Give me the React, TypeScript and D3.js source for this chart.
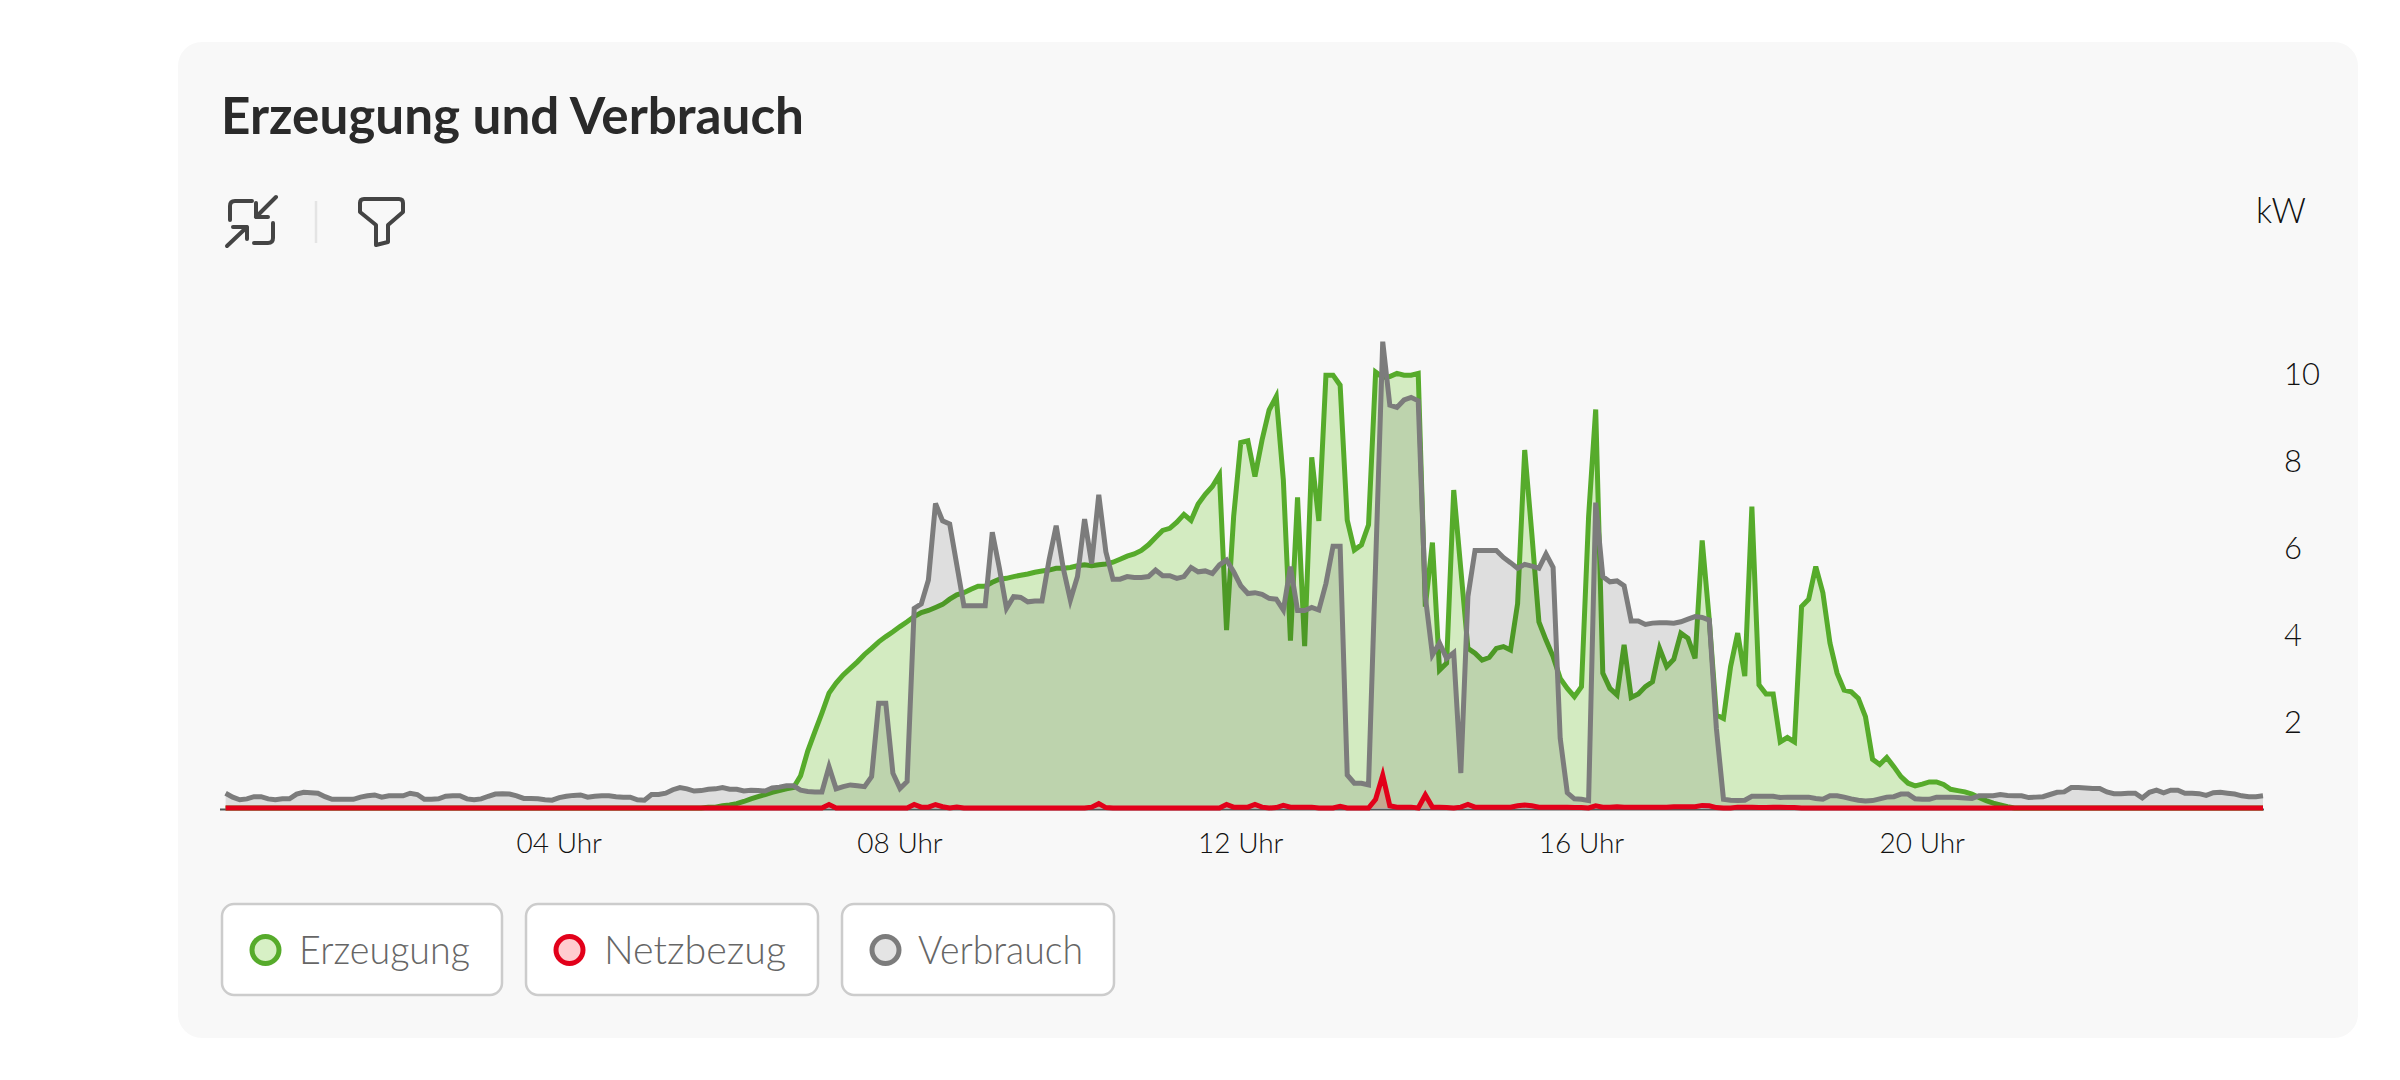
import React from 'react';
import { area, curveLinear, line, scaleLinear } from 'd3';

const width = 2400;
const height = 1080;

// kW, one value per 5 minutes, 00:05 to 24:00
const erzeugung = [
  0, 0, 0, 0, 0, 0, 0, 0, 0, 0, 0, 0,
  0, 0, 0, 0, 0, 0, 0, 0, 0, 0, 0, 0,
  0, 0, 0, 0, 0, 0, 0, 0, 0, 0, 0, 0,
  0, 0, 0, 0, 0, 0, 0, 0, 0, 0, 0, 0,
  0, 0, 0, 0, 0, 0, 0, 0, 0, 0, 0, 0,
  0, 0, 0, 0, 0, 0, 0, 0, 0.02, 0.02, 0.05, 0.07,
  0.1, 0.15, 0.21, 0.26, 0.31, 0.36, 0.4, 0.44, 0.47, 0.74, 1.31, 1.75,
  2.18, 2.64, 2.87, 3.06, 3.21, 3.36, 3.53, 3.67, 3.82, 3.94, 4.05, 4.17,
  4.28, 4.4, 4.49, 4.54, 4.61, 4.68, 4.8, 4.9, 4.95, 5.03, 5.1, 5.1,
  5.19, 5.26, 5.28, 5.32, 5.35, 5.38, 5.42, 5.45, 5.47, 5.51, 5.51, 5.53,
  5.57, 5.59, 5.57, 5.59, 5.61, 5.65, 5.72, 5.79, 5.84, 5.92, 6.05, 6.22,
  6.38, 6.43, 6.57, 6.75, 6.61, 6.99, 7.21, 7.39, 7.66, 4.09, 6.7, 8.4,
  8.44, 7.62, 8.46, 9.15, 9.46, 7.54, 3.85, 7.14, 3.72, 8.06, 6.6, 9.95,
  9.95, 9.72, 6.62, 5.93, 6.05, 6.51, 10.02, 9.9, 9.92, 9.99, 9.95, 9.95,
  9.99, 4.63, 6.1, 3.17, 3.33, 7.31, 5.49, 3.67, 3.56, 3.4, 3.46, 3.67,
  3.71, 3.63, 4.7, 8.23, 6.31, 4.28, 3.86, 3.48, 2.98, 2.75, 2.56, 2.79,
  6.7, 9.16, 3.1, 2.75, 2.6, 3.75, 2.54, 2.62, 2.79, 2.9, 3.67, 3.25,
  3.42, 4.02, 3.9, 3.44, 6.15, 4.32, 2.14, 2.06, 3.25, 4.02, 3.03, 6.93,
  2.83, 2.62, 2.62, 1.52, 1.62, 1.52, 4.63, 4.8, 5.55, 4.95, 3.79, 3.1,
  2.71, 2.67, 2.52, 2.1, 1.12, 1.0, 1.16, 0.95, 0.72, 0.57, 0.51, 0.55,
  0.6, 0.6, 0.54, 0.43, 0.4, 0.37, 0.32, 0.24, 0.17, 0.11, 0.07, 0.03,
  0, 0, 0, 0, 0, 0, 0, 0, 0, 0, 0, 0,
  0, 0, 0, 0, 0, 0, 0, 0, 0, 0, 0, 0,
  0, 0, 0, 0, 0, 0, 0, 0, 0, 0, 0, 0,
];

const verbrauch = [
  0.34, 0.25, 0.19, 0.21, 0.26, 0.26, 0.21, 0.19, 0.21, 0.21, 0.32, 0.36,
  0.35, 0.34, 0.26, 0.2, 0.2, 0.2, 0.2, 0.25, 0.28, 0.3, 0.25, 0.28,
  0.28, 0.28, 0.34, 0.31, 0.2, 0.2, 0.21, 0.27, 0.28, 0.28, 0.21, 0.19,
  0.21, 0.27, 0.32, 0.33, 0.32, 0.28, 0.22, 0.22, 0.21, 0.19, 0.18, 0.24,
  0.27, 0.29, 0.3, 0.25, 0.27, 0.28, 0.28, 0.26, 0.25, 0.25, 0.19, 0.18,
  0.31, 0.31, 0.34, 0.42, 0.47, 0.44, 0.39, 0.4, 0.43, 0.44, 0.47, 0.43,
  0.43, 0.39, 0.41, 0.4, 0.39, 0.46, 0.48, 0.51, 0.51, 0.41, 0.38, 0.37,
  0.37, 0.95, 0.44, 0.49, 0.53, 0.51, 0.49, 0.72, 2.41, 2.41, 0.8, 0.45,
  0.61, 4.59, 4.69, 5.24, 7.0, 6.6, 6.53, 5.59, 4.65, 4.65, 4.65, 4.65,
  6.34, 5.51, 4.59, 4.86, 4.84, 4.74, 4.76, 4.76, 5.7, 6.49, 5.51, 4.78,
  5.32, 6.64, 5.62, 7.2, 5.89, 5.26, 5.26, 5.32, 5.3, 5.3, 5.32, 5.47,
  5.34, 5.34, 5.28, 5.32, 5.53, 5.43, 5.45, 5.39, 5.59, 5.7, 5.43, 5.11,
  4.93, 4.95, 4.91, 4.82, 4.8, 4.55, 5.55, 4.54, 4.54, 4.61, 4.55, 5.16,
  6.02, 6.02, 0.76, 0.57, 0.57, 0.53, 5.62, 10.72, 9.26, 9.21, 9.38, 9.44,
  9.36, 4.86, 3.52, 3.79, 3.44, 3.57, 0.8, 4.86, 5.92, 5.92, 5.92, 5.92,
  5.76, 5.64, 5.51, 5.6, 5.56, 5.51, 5.84, 5.53, 1.6, 0.35, 0.21, 0.2,
  0.17, 7.02, 5.32, 5.2, 5.22, 5.11, 4.3, 4.3, 4.22, 4.25, 4.26, 4.26,
  4.25, 4.28, 4.34, 4.4, 4.38, 4.32, 1.83, 0.2, 0.18, 0.17, 0.18, 0.27,
  0.27, 0.27, 0.27, 0.24, 0.25, 0.25, 0.25, 0.25, 0.22, 0.2, 0.28, 0.28,
  0.25, 0.21, 0.18, 0.16, 0.17, 0.21, 0.25, 0.26, 0.32, 0.32, 0.21, 0.2,
  0.2, 0.25, 0.25, 0.25, 0.24, 0.23, 0.22, 0.28, 0.28, 0.28, 0.31, 0.29,
  0.28, 0.28, 0.24, 0.25, 0.26, 0.31, 0.36, 0.37, 0.47, 0.47, 0.46, 0.45,
  0.45, 0.37, 0.33, 0.33, 0.34, 0.34, 0.23, 0.36, 0.41, 0.35, 0.41, 0.41,
  0.34, 0.34, 0.33, 0.29, 0.35, 0.36, 0.34, 0.32, 0.28, 0.26, 0.26, 0.28,
];

const netzbezug = [
  0, 0, 0, 0, 0, 0, 0, 0, 0, 0, 0, 0,
  0, 0, 0, 0, 0, 0, 0, 0, 0, 0, 0, 0,
  0, 0, 0, 0, 0, 0, 0, 0, 0, 0, 0, 0,
  0, 0, 0, 0, 0, 0, 0, 0, 0, 0, 0, 0,
  0, 0, 0, 0, 0, 0, 0, 0, 0, 0, 0, 0,
  0, 0, 0, 0, 0, 0, 0, 0, 0, 0, 0, 0,
  0, 0, 0, 0, 0, 0, 0, 0, 0, 0, 0, 0,
  0, 0.08, 0, 0, 0, 0, 0, 0, 0, 0, 0, 0,
  0, 0.08, 0.02, 0.02, 0.08, 0.03, 0, 0.02, 0, 0, 0, 0,
  0, 0, 0, 0, 0, 0, 0, 0, 0, 0, 0, 0,
  0, 0, 0.02, 0.1, 0.01, 0, 0, 0, 0, 0, 0, 0,
  0, 0, 0, 0, 0, 0, 0, 0, 0, 0.08, 0.02, 0.02,
  0.02, 0.08, 0.02, 0, 0.01, 0.06, 0.02, 0.02, 0.02, 0.02, 0, 0,
  0, 0.04, 0, 0, 0, 0, 0.2, 0.75, 0.05, 0.02, 0.02, 0.02,
  0, 0.3, 0.02, 0.02, 0.01, 0, 0.02, 0.08, 0.02, 0.02, 0.02, 0.02,
  0.02, 0.02, 0.05, 0.07, 0.05, 0.02, 0.02, 0.02, 0.02, 0.02, 0.01, 0.01,
  0, 0.05, 0.02, 0.02, 0.03, 0.02, 0.02, 0.02, 0.02, 0.02, 0.02, 0.02,
  0.03, 0.03, 0.03, 0.03, 0.06, 0.05, 0.01, 0, 0, 0.02, 0.02, 0.02,
  0.01, 0.01, 0.02, 0.02, 0.01, 0.01, 0, 0, 0, 0, 0, 0,
  0, 0, 0, 0, 0, 0, 0, 0, 0, 0, 0, 0,
  0, 0, 0, 0, 0, 0, 0, 0, 0, 0, 0, 0,
  0, 0, 0, 0, 0, 0, 0, 0, 0, 0, 0, 0,
  0, 0, 0, 0, 0, 0, 0, 0, 0, 0, 0, 0,
  0, 0, 0, 0, 0, 0, 0, 0, 0, 0, 0, 0,
];

const hourTicks = [4, 8, 12, 16, 20];
const hourLabels = ['04 Uhr', '08 Uhr', '12 Uhr', '16 Uhr', '20 Uhr'];
const kwTicks = [2, 4, 6, 8, 10];

const legendNames = ['Erzeugung', 'Netzbezug', 'Verbrauch'];
const legendLine = ['#56ab2b', '#e2001a', '#7c7c7c'];
const legendFill = ['#d7f0c5', '#ffcccf', '#e4e4e4'];

const font = 'Lato, "Open Sans", sans-serif';

const x = scaleLinear().domain([0, 24]).range([218.5, 2263]);
const y = scaleLinear().domain([0, 10]).range([808, 373]);

const hourOf = (i: number) => ((i + 1) * 5) / 60;

const lineGen = line<number>()
  .x((_, i) => x(hourOf(i)))
  .y((d) => y(d))
  .curve(curveLinear);

const areaGen = area<number>()
  .x((_, i) => x(hourOf(i)))
  .y0(y(0))
  .y1((d) => y(d))
  .curve(curveLinear);

// fill colours picked so the overlaps come out like the reference
const series = [
  { values: erzeugung, stroke: legendLine[0], fill: '#50c100', opacity: 0.22 },
  { values: verbrauch, stroke: legendLine[2], fill: '#000', opacity: 0.1 },
  { values: netzbezug, stroke: legendLine[1], fill: legendLine[1], opacity: 0.2 },
];

const legendBoxes = [
  { left: 222, right: 502, textX: 299, textEnd: 470 },
  { left: 526, right: 818, textX: 604, textEnd: 786 },
  { left: 842, right: 1114, textX: 918, textEnd: 1083 },
];

const App = () => (
  <svg
    width={width}
    height={height}
    style={{ position: 'absolute', left: 0, top: 0 }}
    fontFamily={font}
  >
    <rect width={width} height={height} fill="#fff" />
    <rect x={178} y={42} width={2180} height={996} rx={24} fill="#f8f8f8" />

    <text x={221} y={134} fontSize={52} fontWeight={700} fill="#2a2a2a" textLength={583} lengthAdjust="spacingAndGlyphs">
      Erzeugung und Verbrauch
    </text>

    {/* toolbar icons */}
    <g fill="none" stroke="#444" strokeWidth={4} strokeLinecap="round" strokeLinejoin="round">
      <path d="M230 220V206Q230 201 235 201H252" />
      <path d="M276 197L256 217M256 203V217H268" />
      <path d="M227 246L247 227M233 227H247V239" />
      <path d="M273 223V238Q273 243 268 243H254" />
      <path d="M364 199H399Q403 199 403 203V212L388 225V242L376 245V225L360 212V203Q360 199 364 199Z" />
    </g>
    <line x1={316} x2={316} y1={201} y2={243} stroke="#e4e4e4" strokeWidth={2.5} />

    <text x={2306} y={223} fontSize={36} fontWeight={300} fill="#111" textAnchor="end" textLength={50} lengthAdjust="spacingAndGlyphs">
      kW
    </text>

    {kwTicks.map((t) => (
      <text key={t} x={2284} y={y(t) + 12} fontSize={31} fontWeight={300} fill="#111">
        {t}
      </text>
    ))}
    {hourTicks.map((h, i) => (
      <text key={h} x={x(h)} y={853} fontSize={28} fontWeight={300} fill="#111" textAnchor="middle">
        {hourLabels[i]}
      </text>
    ))}

    <line x1={220} x2={2264} y1={809.5} y2={809.5} stroke="#555" strokeWidth={2} />

    {series.map((s) => (
      <g key={s.stroke}>
        <path d={areaGen(s.values) as string} fill={s.fill} fillOpacity={s.opacity} />
        <path d={lineGen(s.values) as string} fill="none" stroke={s.stroke} strokeWidth={5} />
      </g>
    ))}

    {legendNames.map((name, i) => {
      const b = legendBoxes[i];
      return (
        <g key={name}>
          <rect x={b.left} y={904} width={b.right - b.left} height={91} rx={12} fill="#fff" stroke="#ccc" strokeWidth={2.5} />
          <circle cx={b.left + 43.5} cy={950} r={13.5} fill={legendFill[i]} stroke={legendLine[i]} strokeWidth={5} />
          <text x={b.textX} y={964} fontSize={40} fontWeight={300} fill="#666" textLength={b.textEnd - b.textX} lengthAdjust="spacingAndGlyphs">
            {name}
          </text>
        </g>
      );
    })}
  </svg>
);

export default App;
